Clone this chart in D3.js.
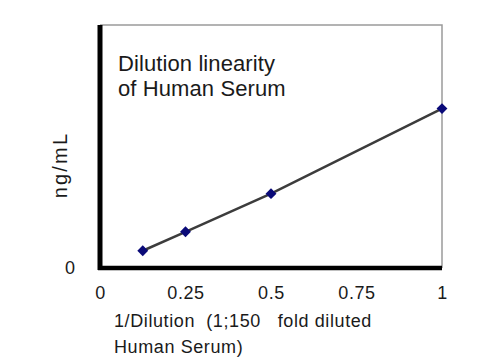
<!DOCTYPE html>
<html>
<head>
<meta charset="utf-8">
<script src="https://cdn.jsdelivr.net/npm/d3@7"></script>
<style>
  html, body { margin: 0; padding: 0; background: #fff; }
  svg { display: block; }
  text { font-family: "Liberation Sans", Arial, sans-serif; fill: #1a1a1a; }
</style>
</head>
<body>
<svg id="chart" width="500" height="360"></svg>
<script>
// Data (y in relative units; only "0" is labelled)
const xValues = [0.125, 0.25, 0.5, 1];
const yValues = [7.1, 14.9, 30.6, 65.6];
const xTicks = [0, 0.25, 0.5, 0.75, 1];
const xTickLabels = ["0", "0.25", "0.5", "0.75", "1"];
const yTicks = [0];
const yTickLabels = ["0"];
const titleLines = ["Dilution linearity", "of Human Serum"];
const xLabelLines = ["1/Dilution  (1;150   fold diluted", "Human Serum)"];
const yLabel = "ng/mL";

const svg = d3.select("#chart");
const pLeft = 100, pRight = 442, pTop = 25, pBottom = 268;
const FONT = "\"Liberation Sans\", Arial, sans-serif";

const x = d3.scaleLinear().domain([0, 1]).range([pLeft, pRight]);
const y = d3.scaleLinear().domain([0, 100]).range([pBottom, pTop]);

// frame: thin gray top/right
svg.append("path")
  .attr("d", `M${pLeft},${pTop}H${pRight}V${pBottom}`)
  .attr("fill", "none").attr("stroke", "#9a9a9a").attr("stroke-width", 1.5);

// x axis
const xAxis = d3.axisBottom(x).tickValues(xTicks)
  .tickFormat((d, i) => xTickLabels[i]).tickSize(0).tickPadding(18);
const gx = svg.append("g").attr("transform", `translate(0,${pBottom})`).call(xAxis);
gx.select(".domain").attr("stroke", "#000").attr("stroke-width", 4.5)
  .attr("d", `M${pLeft - 2},0H${pRight}`);
gx.selectAll("text").style("font-size", "18px").attr("fill", "#1a1a1a")
  .style("letter-spacing", "0.6px").style("font-family", FONT);

// y axis
const yAxis = d3.axisLeft(y).tickValues(yTicks)
  .tickFormat((d, i) => yTickLabels[i]).tickSize(0).tickPadding(25);
const gy = svg.append("g").attr("transform", `translate(${pLeft},0)`).call(yAxis);
gy.select(".domain").attr("stroke", "#000").attr("stroke-width", 5)
  .attr("d", `M0,${pTop}V${pBottom + 2}`);
gy.selectAll("text").style("font-size", "18px").attr("fill", "#1a1a1a")
  .attr("dy", "0.32em").style("font-family", FONT);

// line
const line = d3.line().x((d, i) => x(xValues[i])).y(d => y(d));
svg.append("path").datum(yValues)
  .attr("d", line).attr("fill", "none")
  .attr("stroke", "#3c3c3c").attr("stroke-width", 2.5);

// markers
svg.selectAll(".pt").data(yValues).enter().append("path")
  .attr("class", "pt")
  .attr("d", d3.symbol().type(d3.symbolDiamond2).size(75))
  .attr("transform", (d, i) => `translate(${x(xValues[i])},${y(d)})`)
  .attr("fill", "#0a0a78");

// title
const title = svg.append("text").style("font-size", "22px").style("letter-spacing", "0.1px");
titleLines.forEach((t, i) => title.append("tspan").attr("x", 118).attr("y", 71 + i * 24.5).text(t));

// x label
const xl = svg.append("text").style("font-size", "18px").style("letter-spacing", "0.6px")
  .style("white-space", "pre").attr("xml:space", "preserve");
xLabelLines.forEach((t, i) => xl.append("tspan").attr("x", 114).attr("y", 327 + i * 26).text(t));

// y label
svg.append("text")
  .attr("transform", "translate(67,165) rotate(-90)")
  .attr("text-anchor", "middle")
  .style("font-size", "20px")
  .style("letter-spacing", "2.2px")
  .text(yLabel);
</script>
</body>
</html>
